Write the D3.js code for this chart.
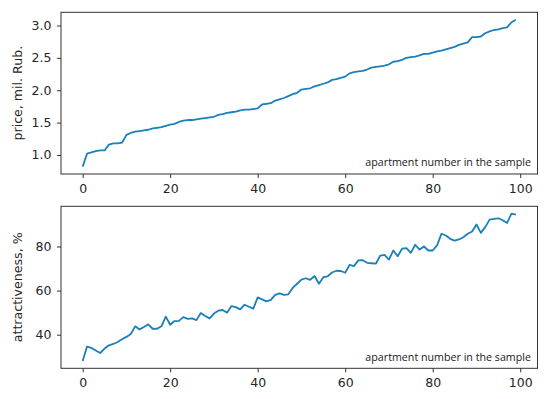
<!DOCTYPE html>
<html><head><meta charset="utf-8">
<script src="https://cdn.jsdelivr.net/npm/d3@7"></script>
<style>html,body{margin:0;padding:0;background:#fff;}svg{display:block;}</style>
</head><body>
<script>
const apartmentIndex = d3.range(0, 100);
const price = [0.82,1.02,1.04,1.06,1.07,1.07,1.16,1.18,1.18,1.19,1.31,1.34,1.36,1.37,1.38,1.39,1.41,1.42,1.43,1.45,
1.47,1.48,1.51,1.53,1.54,1.54,1.55,1.56,1.57,1.58,1.59,1.62,1.63,1.65,1.66,1.67,1.69,1.70,1.70,1.71,
1.72,1.78,1.79,1.80,1.84,1.86,1.88,1.91,1.94,1.96,2.01,2.02,2.03,2.06,2.08,2.10,2.12,2.16,2.17,2.19,
2.21,2.26,2.28,2.29,2.30,2.32,2.35,2.36,2.37,2.38,2.40,2.44,2.45,2.47,2.50,2.51,2.52,2.54,2.56,2.56,
2.58,2.60,2.61,2.63,2.65,2.67,2.70,2.72,2.74,2.82,2.82,2.83,2.88,2.91,2.93,2.94,2.96,2.97,3.05,3.09];
const attractiveness = [28.1,34.6,34.0,32.8,31.7,33.7,35.2,35.8,36.7,37.9,39.0,40.3,43.8,42.4,43.5,44.7,42.7,42.7,43.8,48.2,
44.5,46.2,46.3,48.0,47.2,47.4,46.6,49.8,48.5,47.4,49.6,50.9,51.2,50.0,53.0,52.5,51.5,53.6,52.7,51.8,
56.9,56.0,55.1,55.8,58.1,58.7,58.1,58.3,61.2,63.1,65.0,65.6,64.9,66.6,63.1,66.1,66.5,68.2,69.0,68.9,
68.1,71.7,71.1,73.7,73.8,72.6,72.4,72.2,75.9,76.2,74.1,78.2,75.6,79.0,79.3,77.1,80.8,78.6,80.0,78.2,
78.2,80.5,85.8,85.0,83.5,82.7,83.2,84.2,85.8,86.8,90.0,86.2,88.8,92.2,92.5,92.8,91.9,90.7,94.9,94.5];
const xTicks = [0, 20, 40, 60, 80, 100];
const priceTicks = [1.0, 1.5, 2.0, 2.5, 3.0];
const attrTicks = [40, 60, 80];
const yLabels = ["price, mil. Rub.", "attractiveness, %"];
const xNote = "apartment number in the sample";

const W = 550, H = 399;
const svg = d3.select("body").append("svg").attr("width", W).attr("height", H);
const left = 61, right = 537.5;
const lineColor = "#1a7fba";
const axisColor = "#333";

function withMargin(ext) { const r = ext[1] - ext[0]; return [ext[0] - 0.05 * r, ext[1] + 0.05 * r]; }

const xDom = withMargin(d3.extent(apartmentIndex));

function panel(values, ticks, fmt, top, bottom, label) {
  const x = d3.scaleLinear().domain(xDom).range([left, right]);
  const y = d3.scaleLinear().domain(withMargin(d3.extent(values))).range([bottom, top]);
  const g = svg.append("g");
  const line = d3.line().x((d, i) => x(apartmentIndex[i])).y(d => y(d));
  g.append("path").datum(values).attr("d", line).attr("fill", "none")
    .attr("stroke", lineColor).attr("stroke-width", 1.8).attr("stroke-linejoin", "round");
  g.append("rect").attr("x", left).attr("y", top).attr("width", right - left).attr("height", bottom - top)
    .attr("fill", "none").attr("stroke", axisColor).attr("stroke-width", 1);
  const xa = g.append("g").attr("transform", `translate(0,${bottom})`)
    .call(d3.axisBottom(x).tickValues(xTicks).tickSize(4).tickPadding(6).tickFormat(d3.format("d")));
  const ya = g.append("g").attr("transform", `translate(${left},0)`)
    .call(d3.axisLeft(y).tickValues(ticks).tickSize(4).tickPadding(5.5).tickFormat(fmt));
  [xa, ya].forEach(a => {
    a.select(".domain").remove();
    a.selectAll("line").attr("stroke", axisColor);
    a.selectAll("text").attr("fill", "#262626").style("font-family", "DejaVu Sans").style("font-size", "12.5px");
  });
  g.append("text").attr("transform", `translate(18.5,${(top + bottom) / 2}) rotate(-90)`)
    .attr("text-anchor", "middle").attr("dominant-baseline", "middle")
    .style("font-family", "DejaVu Sans").style("font-size", "12.6px").attr("fill", "#262626").text(label);
  g.append("text").attr("x", 531).attr("y", bottom - 7.8).attr("text-anchor", "end")
    .style("font-family", "Open Sans").style("font-size", "10.7px").attr("fill", "#1a1a1a").text(xNote);
}

panel(price, priceTicks, d3.format(".1f"), 12.3, 174, yLabels[0]);
panel(attractiveness, attrTicks, d3.format("d"), 206.3, 368.3, yLabels[1]);
</script>
</body></html>
